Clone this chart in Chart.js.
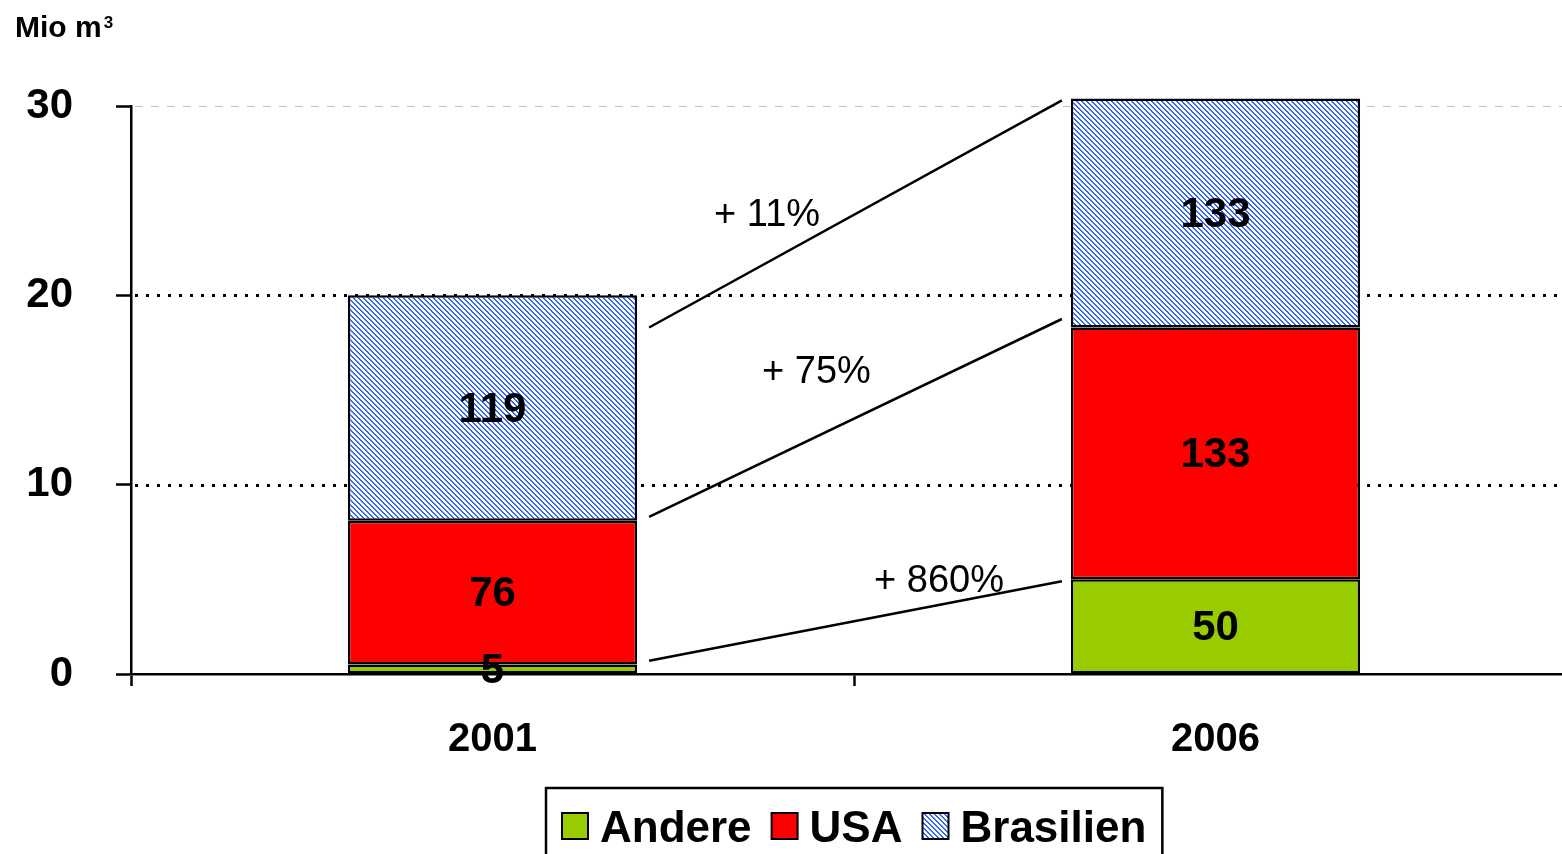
<!DOCTYPE html>
<html>
<head>
<meta charset="utf-8">
<script src="https://cdn.jsdelivr.net/npm/chart.js@4/dist/chart.umd.min.js"></script>
<style>
html, body { margin: 0; padding: 0; background: #fff; overflow: hidden; }
#wrap { position: absolute; left: 0; top: 0; width: 1577px; height: 870px; }
</style>
</head>
<body>
<div id="wrap"><canvas id="chart" width="1577" height="870"></canvas></div>
<script>
var years = ['2001', '2006'];
var andere = [0.5, 5.0];
var usa = [7.6, 13.3];
var brasilien = [11.9, 12.1];
var andereLabels = ['5', '50'];
var usaLabels = ['76', '133'];
var brasilienLabels = ['119', '133'];
var unitLabel = 'Mio m';
var unitPower = '3';

// growth lines between the two bars (values where they touch the bars)
var growthText = ['+ 860%', '+ 75%', '+ 11%'];
var growthFrom = [0.7, 8.3, 18.3];
var growthTo = [4.9, 18.75, 30.3];
var growthTextAt = [4.86, 15.9, 24.2];

var FONT = '"Liberation Sans", Arial, sans-serif';

function hatch() {
    var c = document.createElement('canvas');
    c.width = 5;
    c.height = 5;
    var g = c.getContext('2d');
    g.fillStyle = '#fff';
    g.fillRect(0, 0, 5, 5);
    g.fillStyle = '#3366ff';
    for (var i = 0; i < 5; i++) {
        g.fillRect(i, i, 1, 1);
        g.fillRect((i + 1) % 5, i, 1, 1);
    }
    return g.createPattern(c, 'repeat');
}
var brasilienFill = hatch();

// dotted grid lines, light dashed one at the top
var gridLines = {
    id: 'gridLines',
    beforeDatasetsDraw: function (chart) {
        var ctx = chart.ctx, a = chart.chartArea, y = chart.scales.y;
        y.ticks.forEach(function (t) {
            if (t.value === 0) return;
            var py = Math.round(y.getPixelForValue(t.value));
            ctx.save();
            if (t.value === 30) {
                ctx.strokeStyle = '#c0c0c0';
                ctx.lineWidth = 1;
                ctx.setLineDash([8, 8]);
                py += 0.5;
            } else {
                ctx.strokeStyle = '#000';
                ctx.lineWidth = 3;
                ctx.setLineDash([3, 8]);
                py += 0.5;
            }
            ctx.beginPath();
            ctx.moveTo(a.left + 4, py);
            ctx.lineTo(a.right, py);
            ctx.stroke();
            ctx.restore();
        });
    }
};

// numbers inside the bar segments
var barLabels = {
    id: 'barLabels',
    afterDatasetsDraw: function (chart) {
        var ctx = chart.ctx;
        ctx.save();
        ctx.fillStyle = '#000';
        ctx.font = 'bold 42px ' + FONT;
        ctx.textAlign = 'center';
        ctx.textBaseline = 'middle';
        chart.data.datasets.forEach(function (ds, i) {
            chart.getDatasetMeta(i).data.forEach(function (bar, j) {
                var p = bar.getProps(['x', 'y', 'base'], true);
                ctx.fillText(ds.valueLabels[j], p.x, (p.y + p.base) / 2 + 2);
            });
        });
        ctx.restore();
    }
};

// lines with growth percentages
var growth = {
    id: 'growth',
    afterDatasetsDraw: function (chart) {
        var ctx = chart.ctx, y = chart.scales.y;
        var bars = chart.getDatasetMeta(0).data;
        var x0 = bars[0].x + bars[0].width / 2 + 12;
        var x1 = bars[1].x - bars[1].width / 2 - 9;
        var textLeft = [225, 113, 65];
        ctx.save();
        ctx.strokeStyle = '#000';
        ctx.lineWidth = 2.5;
        ctx.fillStyle = '#000';
        ctx.font = '38px ' + FONT;
        ctx.textBaseline = 'middle';
        for (var i = 0; i < growthText.length; i++) {
            ctx.beginPath();
            ctx.moveTo(x0, y.getPixelForValue(growthFrom[i]));
            ctx.lineTo(x1, y.getPixelForValue(growthTo[i]));
            ctx.stroke();
            ctx.fillText(growthText[i], x0 + textLeft[i], y.getPixelForValue(growthTextAt[i]));
        }
        ctx.restore();
    }
};

// unit label and boxed legend
var extras = {
    id: 'extras',
    afterDraw: function (chart) {
        var ctx = chart.ctx, a = chart.chartArea;
        ctx.save();
        ctx.fillStyle = '#000';
        ctx.font = 'bold 30px ' + FONT;
        ctx.textBaseline = 'alphabetic';
        ctx.fillText(unitLabel, 15, 37);
        var uw = ctx.measureText(unitLabel).width;
        ctx.font = 'bold 17px ' + FONT;
        ctx.fillText(unitPower, 15 + uw + 2, 28);

        ctx.font = 'bold 44px ' + FONT;
        var ds = chart.data.datasets;
        var widths = ds.map(function (d) { return ctx.measureText(d.label).width; });
        var total = 16 * 2;
        widths.forEach(function (w, i) { total += 26 + 12 + w + (i ? 20 : 0); });
        var left = Math.round((a.left + a.right) / 2 - total / 2);
        var top = 788;
        ctx.strokeStyle = '#000';
        ctx.lineWidth = 2.5;
        ctx.strokeRect(left, top, total, 120);
        ctx.lineWidth = 2;
        var x = left + 16;
        ds.forEach(function (d, i) {
            ctx.fillStyle = d.backgroundColor;
            ctx.fillRect(x, 813, 26, 26);
            ctx.strokeRect(x, 813, 26, 26);
            ctx.fillStyle = '#000';
            ctx.fillText(d.label, x + 38, 842);
            x += 26 + 12 + widths[i] + 20;
        });
        ctx.restore();
    }
};

new Chart(document.getElementById('chart'), {
    type: 'bar',
    data: {
        labels: years,
        datasets: [
            { label: 'Andere', data: andere, backgroundColor: '#99cc00', valueLabels: andereLabels },
            { label: 'USA', data: usa, backgroundColor: '#ff0000', valueLabels: usaLabels },
            { label: 'Brasilien', data: brasilien, backgroundColor: brasilienFill, valueLabels: brasilienLabels }
        ]
    },
    options: {
        responsive: false,
        animation: false,
        devicePixelRatio: 1,
        layout: { padding: { top: 106, left: 0, right: 0, bottom: 0 } },
        datasets: {
            bar: {
                borderColor: '#000',
                borderWidth: 2.5,
                borderSkipped: false,
                categoryPercentage: 1,
                barPercentage: 0.4,
                clip: false
            }
        },
        plugins: {
            legend: { display: false },
            tooltip: { enabled: false }
        },
        scales: {
            x: {
                stacked: true,
                grid: { drawOnChartArea: false, tickLength: 12, tickWidth: 2.5, tickColor: '#000' },
                border: { color: '#000', width: 2.5 },
                ticks: { color: '#000', font: { family: FONT, size: 40, weight: 'bold' }, padding: 30 },
                afterFit: function (s) { s.height = 196; }
            },
            y: {
                stacked: true,
                min: 0,
                max: 30,
                ticks: { stepSize: 10, color: '#000', font: { family: FONT, size: 42, weight: 'bold' }, padding: 43 },
                grid: { drawOnChartArea: false, tickLength: 15, tickWidth: 2.5, tickColor: '#000' },
                border: { color: '#000', width: 2.5 },
                afterFit: function (s) { s.width = 131; }
            }
        }
    },
    plugins: [gridLines, barLabels, growth, extras]
});
</script>
</body>
</html>
